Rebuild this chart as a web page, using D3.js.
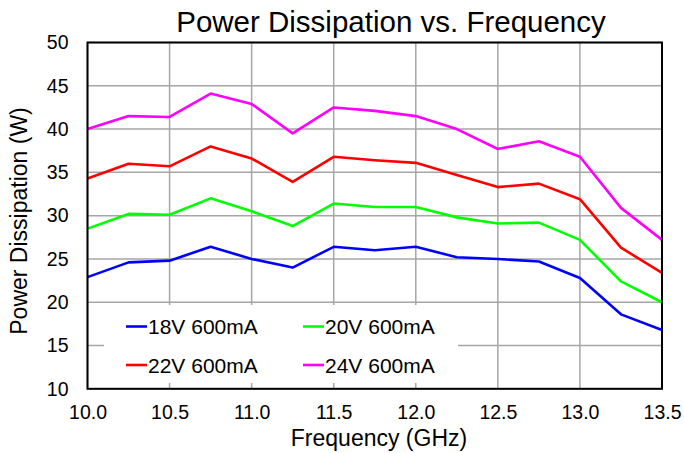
<!DOCTYPE html>
<html><head><meta charset="utf-8">
<script src="https://cdn.jsdelivr.net/npm/d3@7"></script>
<style>body{margin:0;background:#fff;}svg text{font-family:"Liberation Sans",Arial,sans-serif;}</style>
</head><body>
<svg id="c" width="684" height="453"></svg>
<script>
const freq = [10.0,10.25,10.5,10.75,11.0,11.25,11.5,11.75,12.0,12.25,12.5,12.75,13.0,13.25,13.5];
const s18 = [22.9,24.6,24.8,26.4,25.0,24.0,26.4,26.0,26.4,25.2,25.0,24.7,22.8,18.6,16.8];
const s20 = [28.5,30.2,30.1,32.0,30.5,28.8,31.4,31.0,31.0,29.8,29.1,29.2,27.2,22.4,20.0];
const s22 = [34.3,36.0,35.7,38.0,36.6,33.9,36.8,36.4,36.1,34.7,33.3,33.7,31.9,26.3,23.4];
const s24 = [40.0,41.5,41.4,44.1,42.9,39.5,42.5,42.1,41.5,40.0,37.7,38.6,36.8,30.9,27.2];
const seriesNames = ["18V 600mA","20V 600mA","22V 600mA","24V 600mA"];
const seriesColors = ["#0000ff","#00ff00","#ff0000","#ff00ff"];
const xTicks = [10.0,10.5,11.0,11.5,12.0,12.5,13.0,13.5];
const yTicks = [10,15,20,25,30,35,40,45,50];

const svg = d3.select("#c");
const L=87.5, R=662, T=42.5, B=388.8;
const x = d3.scaleLinear().domain([10,13.5]).range([L,R]);
const y = d3.scaleLinear().domain([10,50]).range([B,T]);

// grid
const g = svg.append("g");
g.selectAll("line.v").data(xTicks).join("line")
  .attr("x1",d=>x(d)).attr("x2",d=>x(d)).attr("y1",T).attr("y2",B)
  .attr("stroke","#a6a6a6").attr("stroke-width",1.5);
g.selectAll("line.h").data(yTicks).join("line")
  .attr("x1",L).attr("x2",R).attr("y1",d=>y(d)).attr("y2",d=>y(d))
  .attr("stroke","#a6a6a6").attr("stroke-width",1.5);

// legend background (covers grid)
svg.append("rect").attr("x",104).attr("y",305).attr("width",354).attr("height",78).attr("fill","#fff");

// lines
const data=[s18,s20,s22,s24];
const line = d3.line().x((d,i)=>x(freq[i])).y(d=>y(d));
data.forEach((s,k)=>{
  svg.append("path").datum(s).attr("d",line).attr("fill","none")
    .attr("stroke",seriesColors[k]).attr("stroke-width",2.6).attr("stroke-linejoin","round");
});

// frame
svg.append("rect").attr("x",L).attr("y",T).attr("width",R-L).attr("height",B-T)
  .attr("fill","none").attr("stroke","#000").attr("stroke-width",2);

// axes
const xAxis = d3.axisBottom(x).tickValues(xTicks).tickFormat(d3.format(".1f")).tickSize(0).tickPadding(16);
const xa = svg.append("g").attr("transform",`translate(0,${B})`).call(xAxis);
xa.select(".domain").remove();
xa.selectAll("text").attr("font-size",19.5).attr("fill","#000").style("font-family","Liberation Sans, Arial, sans-serif");
const yAxis = d3.axisLeft(y).tickValues(yTicks).tickSize(0).tickPadding(19);
const ya = svg.append("g").attr("transform",`translate(${L},0)`).call(yAxis);
ya.select(".domain").remove();
ya.selectAll("text").attr("font-size",19.5).attr("fill","#000").style("font-family","Liberation Sans, Arial, sans-serif");

// titles
svg.append("text").attr("x",391).attr("y",32).attr("text-anchor","middle").attr("font-size",29.5).text("Power Dissipation vs. Frequency");
svg.append("text").attr("x",379).attr("y",446).attr("text-anchor","middle").attr("font-size",23).text("Frequency (GHz)");
svg.append("text").attr("transform","translate(27,221) rotate(-90)").attr("text-anchor","middle").attr("font-size",23).text("Power Dissipation (W)");

// legend
const lx=[126,303], ly=[326.5,365];
seriesNames.forEach((n,k)=>{
  const cx=lx[k%2], cy=ly[Math.floor(k/2)];
  svg.append("line").attr("x1",cx).attr("x2",cx+21).attr("y1",cy).attr("y2",cy).attr("stroke",seriesColors[k]).attr("stroke-width",2.6);
  svg.append("text").attr("x",cx+22).attr("y",cy+7.5).attr("font-size",21).text(n);
});
</script>
</body></html>
